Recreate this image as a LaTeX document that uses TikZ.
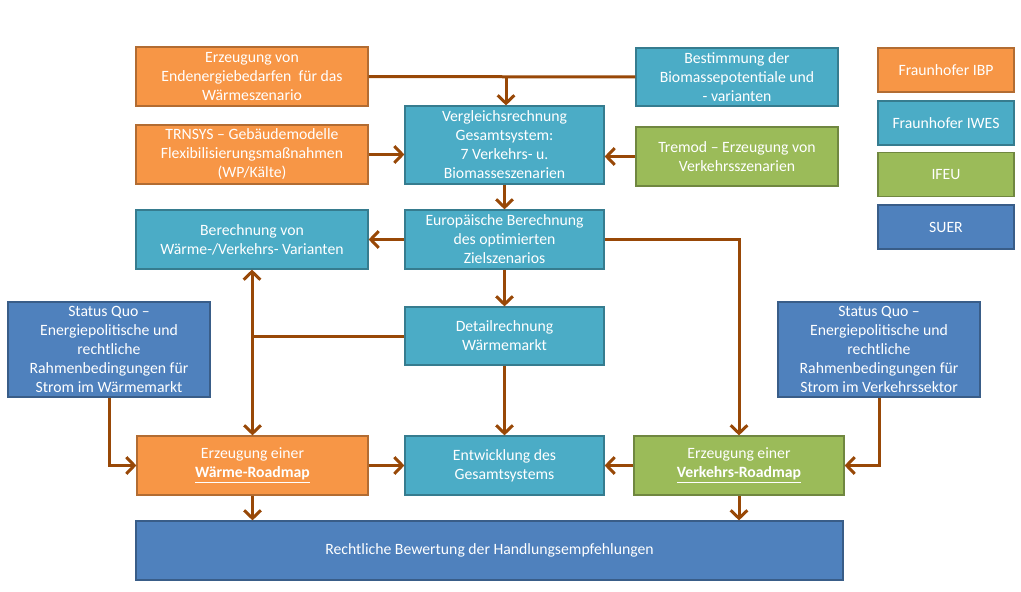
\documentclass[tikz,border=0pt]{standalone}
\usepackage{fontspec}
\setmainfont{Carlito}
\usetikzlibrary{arrows.meta}

\definecolor{ibp}{RGB}{247,150,70}
\definecolor{iwes}{RGB}{75,172,198}
\definecolor{ifeu}{RGB}{155,187,89}
\definecolor{suer}{RGB}{79,129,189}
\definecolor{flow}{RGB}{152,72,7}

\begin{document}
\begin{tikzpicture}[x=0.75pt,y=0.75pt,yscale=-1,xscale=1,
  box/.style={draw=#1!72!black, fill=#1, line width=0.9pt, text=white, align=center,
    inner sep=1pt, font=\fontsize{11.8}{14.25}\selectfont},
  flowline/.style={draw=flow, line width=2.25pt},
  flowarrow/.style={flowline, -{Straight Barb[length=6pt,width=12.5pt]}}
]
\useasboundingbox (0,0) rectangle (1021,592);

%Shape: Rectangle (top row)
\node[box=ibp, minimum width=174pt, minimum height=44.25pt] (endbedarf) at (252,76.5) {Erzeugung von\\Endenergiebedarfen\ \ für das\\Wärmeszenario};
\node[box=iwes, minimum width=151.5pt, minimum height=43.5pt] (biomasse) at (737,77) {Bestimmung der\\Biomassepotentiale und\\- varianten};
\node[box=ibp, minimum width=174pt, minimum height=44.25pt] (trnsys) at (252,154.5) {TRNSYS -- Gebäudemodelle\\Flexibilisierungsmaßnahmen\\(WP/Kälte)};
\node[box=iwes, minimum width=149.25pt, minimum height=58.5pt] (vergleich) at (504.5,145) {Vergleichsrechnung\\Gesamtsystem:\\7 Verkehrs- u.\\Biomasseszenarien};
\node[box=ifeu, minimum width=151.5pt, minimum height=44.25pt] (tremod) at (737,156.5) {Tremod -- Erzeugung von\\Verkehrsszenarien};

%Shape: Rectangle (middle)
\node[box=iwes, minimum width=174pt, minimum height=44.25pt] (varianten) at (252,239.5) {Berechnung von\\Wärme-/Verkehrs- Varianten};
\node[box=iwes, minimum width=149.25pt, minimum height=44.25pt] (europa) at (504.5,239.5) {Europäische Berechnung\\des optimierten\\Zielszenarios};
\node[box=iwes, minimum width=149.25pt, minimum height=43.5pt] (detail) at (504.5,336) {Detailrechnung\\Wärmemarkt};
\node[box=suer, minimum width=151.5pt, minimum height=71.25pt] (statusw) at (109,349.5) {Status Quo --\\Energiepolitische und\\rechtliche\\Rahmenbedingungen für\\Strom im Wärmemarkt};
\node[box=suer, minimum width=151.5pt, minimum height=71.25pt] (statusv) at (879,349.5) {Status Quo --\\Energiepolitische und\\rechtliche\\Rahmenbedingungen für\\Strom im Verkehrssektor};

%Shape: Rectangle (roadmaps)
\node[box=ibp, minimum width=173.25pt, minimum height=44.25pt] (waerme) at (252.5,465.5) {Erzeugung einer\\\underline{\textbf{Wärme-Roadmap}}};
\node[box=iwes, minimum width=149.25pt, minimum height=44.25pt] (entw) at (504.5,465.5) {Entwicklung des\\Gesamtsystems};
\node[box=ifeu, minimum width=157.5pt, minimum height=44.25pt] (verkehr) at (739,465.5) {Erzeugung einer\\\underline{\textbf{Verkehrs-Roadmap}}};
\node[box=suer, minimum width=530.25pt, minimum height=44.25pt] (bewertung) at (489.5,550.5) {Rechtliche Bewertung der Handlungsempfehlungen};

%Legend
\node[box=ibp, minimum width=102pt, minimum height=33pt] (legibp) at (946,70) {Fraunhofer IBP};
\node[box=iwes, minimum width=102pt, minimum height=33pt] (legiwes) at (946,123) {Fraunhofer IWES};
\node[box=ifeu, minimum width=102pt, minimum height=33pt] (legifeu) at (946,174.5) {IFEU};
\node[box=suer, minimum width=102pt, minimum height=33pt] (legsuer) at (946,227) {SUER};

%Straight Lines
\draw[flowline] (endbedarf.east) -- (biomasse.west);
\draw[flowarrow] (endbedarf.east -| 506,0) -- (506,0 |- vergleich.north);
\draw[flowarrow] (trnsys.east) -- (trnsys.east -| vergleich.west);
\draw[flowarrow] (tremod.west) -- (tremod.west -| vergleich.east);
\draw[flowarrow] (vergleich.south) -- (europa.north);
\draw[flowarrow] (europa.west) -- (varianten.east);
\draw[flowarrow] (europa.east) -| (verkehr.north);
\draw[flowarrow] (europa.south) -- (detail.north);
\draw[flowarrow] (detail.south) -- (entw.north);
\draw[flowarrow] (detail.west) -| (varianten.south);
\draw[flowarrow] (detail.west) -| (waerme.north);
\draw[flowarrow] (statusw.south) |- (waerme.west);
\draw[flowarrow] (statusv.south) |- (verkehr.east);
\draw[flowarrow] (waerme.east) -- (entw.west);
\draw[flowarrow] (verkehr.west) -- (entw.east);
\draw[flowarrow] (waerme.south) -- (waerme.south |- bewertung.north);
\draw[flowarrow] (verkehr.south) -- (verkehr.south |- bewertung.north);

\end{tikzpicture}
\end{document}
